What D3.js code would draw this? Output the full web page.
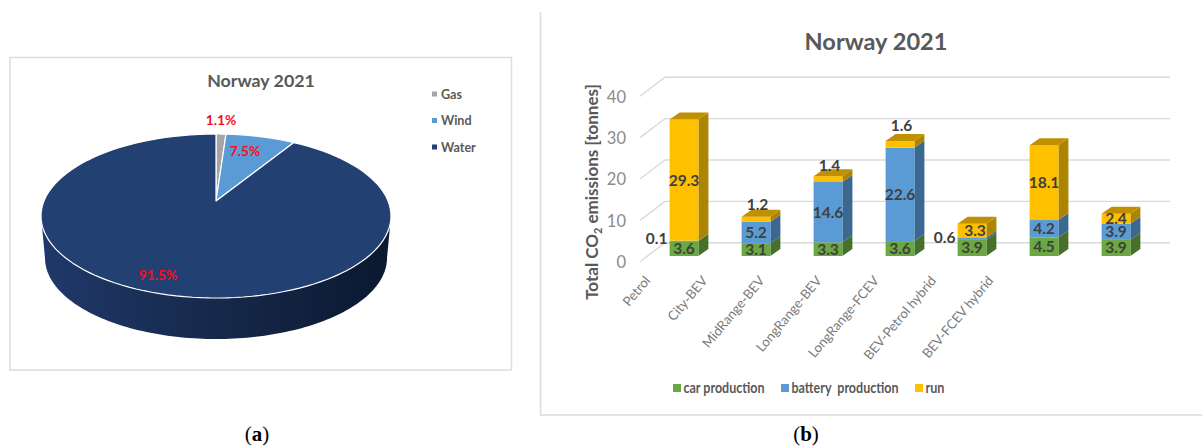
<!DOCTYPE html>
<html>
<head>
<meta charset="utf-8">
<script src="https://cdn.jsdelivr.net/npm/d3@7"></script>
<style>
  html, body { margin: 0; padding: 0; background: #fff; }
  svg { display: block; }
  text { font-family: Lato, "Open Sans", sans-serif; }
</style>
</head>
<body>
<svg id="figure" width="1202" height="448"></svg>
<script>
// Electricity mix, Norway 2021 (%)
const mixSources = ["Gas", "Wind", "Water"];
const mixShares = [1.1, 7.5, 91.5];
const mixLabels = ["1.1%", "7.5%", "91.5%"];

// Lifecycle CO2 per vehicle type (tonnes)
const vehicles = ["Petrol", "City-BEV", "MidRange-BEV", "LongRange-BEV", "LongRange-FCEV", "BEV-Petrol hybrid", "BEV-FCEV hybrid"];
const phases = ["car production", "battery  production", "run"];
const carProduction = [3.6, 3.1, 3.3, 3.6, 3.9, 4.5, 3.9];
const batteryProduction = [0.1, 5.2, 14.6, 22.6, 0.6, 4.2, 3.9];
const runPhase = [29.3, 1.2, 1.4, 1.6, 3.3, 18.1, 2.4];
const emissionTicks = [0, 10, 20, 30, 40];

const svg = d3.select("#figure");
const defs = svg.append("defs");
const GREY = "#595959";

/* ---------- panel (a): tilted pie ---------- */
const panelA = svg.append("g");
panelA.append("rect").attr("x", 10).attr("y", 57.5).attr("width", 501.5).attr("height", 312.5)
  .attr("fill", "#fff").attr("stroke", "#dcdcdc").attr("stroke-width", 1.5);

panelA.append("text").attr("x", 261).attr("y", 87).attr("text-anchor", "middle")
  .attr("font-size", 17.8).attr("font-weight", 700).attr("fill", GREY).text("Norway 2021");

const pieColor = d3.scaleOrdinal().domain(mixSources).range(["#a5a5a5", "#5b9bd5", "#234073"]);

const rimTop = { cx: 216, cy: 216, rx: 175, ry: 82 };
const rimLow = { cx: 216, cy: 258, rx: 171, ry: 81 };
const apex = [216, 201];
const foreshorten = 0.83; // perspective squeeze of pie angles along the rim

const rimAngle = a => {
  const t = Math.atan2(foreshorten * Math.sin(a), Math.cos(a));
  return t < -1e-6 ? t + 2 * Math.PI : t;
};
const rimPoint = (e, t) => [e.cx + e.rx * Math.sin(t), e.cy - e.ry * Math.cos(t)];
const sweep = (e, a, b) => d3.range(0, 121).map(i => rimPoint(e, a + (b - a) * i / 120));
const pathOf = d3.line();

const sideFill = defs.append("linearGradient").attr("id", "pieSide")
  .attr("gradientUnits", "userSpaceOnUse").attr("x1", 41).attr("x2", 391).attr("y1", 0).attr("y2", 0);
[[0, "#20396a"], [0.3, "#1a2f57"], [0.6, "#142645"], [1, "#0a1830"]].forEach(([o, c]) =>
  sideFill.append("stop").attr("offset", o).attr("stop-color", c));

panelA.append("path")
  .attr("d", pathOf([...sweep(rimTop, Math.PI / 2, 3 * Math.PI / 2), ...sweep(rimLow, 3 * Math.PI / 2, Math.PI / 2)]) + "Z")
  .attr("fill", "url(#pieSide)");

const slices = d3.pie().sort(null).value(d => d)(mixShares);
panelA.selectAll("path.slice").data(slices).join("path").attr("class", "slice")
  .attr("d", s => {
    const a = rimAngle(s.startAngle);
    const b = s.endAngle >= 2 * Math.PI - 1e-3 ? 2 * Math.PI : rimAngle(s.endAngle);
    return pathOf([apex, ...sweep(rimTop, a, b)]) + "Z";
  })
  .attr("fill", (s, i) => pieColor(mixSources[i]))
  .attr("stroke", "#fff").attr("stroke-width", 1.2).attr("stroke-linejoin", "round");

const pieLabelAt = [[221, 125], [245, 156], [158, 280]];
panelA.selectAll("text.share").data(mixLabels).join("text").attr("class", "share")
  .attr("x", (d, i) => pieLabelAt[i][0]).attr("y", (d, i) => pieLabelAt[i][1])
  .attr("text-anchor", "middle").attr("font-size", 13.8).attr("font-weight", 700)
  .attr("fill", "#fb0d1b").text(d => d);

const mixLegendY = d3.scalePoint().domain(mixSources).range([94, 147]);
const mixLegend = panelA.selectAll("g.key").data(mixSources).join("g").attr("class", "key")
  .attr("transform", d => `translate(432,${mixLegendY(d)})`);
mixLegend.append("rect").attr("x", 0).attr("y", -2.5).attr("width", 5).attr("height", 5)
  .attr("fill", d => pieColor(d));
mixLegend.append("text").attr("x", 9).attr("y", 4.5).attr("font-size", 12.6).attr("font-weight", 700)
  .attr("fill", GREY).text(d => d);

/* ---------- panel (b): stacked 3-D columns ---------- */
const panelB = svg.append("g");
panelB.append("path").attr("d", "M540.5,12V415H1202").attr("fill", "none")
  .attr("stroke", "#dcdcdc").attr("stroke-width", 1.5);

panelB.append("text").attr("x", 876).attr("y", 50).attr("text-anchor", "middle")
  .attr("font-size", 23.6).attr("font-weight", 700).attr("fill", GREY).text("Norway 2021");

const domainY = [0, 40];
const yBar = d3.scaleLinear().domain(domainY).range([256, 90.6]);
const yWall = d3.scaleLinear().domain(domainY).range([242.7, 77.3]);
const yTick = d3.scaleLinear().domain(domainY).range([262, 97]);
const xBar = d3.scaleBand().domain(vehicles).range([648, 1152]).paddingInner(0.6).paddingOuter(0.3);
const xName = d3.scalePoint().domain(vehicles).range([651, 994]);
const wallDepth = { dx: 25, dy: -19 };
const barDepth = { dx: 10, dy: -7 };

const grid = panelB.append("g").attr("fill", "none").attr("stroke", "#dadada").attr("stroke-width", 1.4);
grid.selectAll("path").data(emissionTicks).join("path")
  .attr("d", v => pathOf([[640, yWall(v) - wallDepth.dy], [640 + wallDepth.dx, yWall(v)], [1170, yWall(v)]]));

const tickAxis = d3.axisLeft(yTick).tickValues(emissionTicks).tickSize(0).tickPadding(0);
const tickGroup = panelB.append("g").attr("transform", "translate(626,0)").call(tickAxis);
tickGroup.select(".domain").remove();
tickGroup.selectAll("text").attr("font-size", 16.5).attr("fill", "#8a8a8a")
  .style("font-family", "Lato, sans-serif");

const yTitle = panelB.append("text").attr("transform", "translate(598,192) rotate(-90)")
  .attr("text-anchor", "middle").attr("font-size", 17).attr("font-weight", 700).attr("fill", GREY);
yTitle.append("tspan").text("Total CO");
yTitle.append("tspan").attr("dy", 4).attr("font-size", 11).text("2");
yTitle.append("tspan").attr("dy", -4).text(" emissions [tonnes]");

const phaseValues = [carProduction, batteryProduction, runPhase];
const phaseFront = d3.scaleOrdinal().domain(phases).range(["#6aa842", "#5b9bd5", "#ffc000"]);
const phaseSide = d3.scaleOrdinal().domain(phases).range(["#47702d", "#3a6890", "#ad8400"]);
const capFill = "#bf9000";

const rows = vehicles.map((name, i) => {
  let base = 0;
  const parts = phases.map((phase, p) => {
    const value = phaseValues[p][i];
    const part = { phase, value, y0: base, y1: base + value };
    base += value;
    return part;
  });
  return { name, parts, total: base };
});

// Height of the small "run" values above their column tops
const liftAboveTop = new Map([["City-BEV", 7], ["MidRange-BEV", 5], ["LongRange-BEV", 10]]);

const columns = panelB.selectAll("g.column").data(rows).join("g").attr("class", "column");
const w = xBar.bandwidth();
columns.each(function (row) {
  const g = d3.select(this);
  const x0 = xBar(row.name);
  row.parts.forEach(part => {
    g.append("path")
      .attr("d", pathOf([[x0 + w, yBar(part.y0)], [x0 + w + barDepth.dx, yBar(part.y0) + barDepth.dy],
        [x0 + w + barDepth.dx, yBar(part.y1) + barDepth.dy], [x0 + w, yBar(part.y1)]]) + "Z")
      .attr("fill", phaseSide(part.phase));
    g.append("rect").attr("x", x0).attr("width", w)
      .attr("y", yBar(part.y1)).attr("height", yBar(part.y0) - yBar(part.y1))
      .attr("fill", phaseFront(part.phase));
  });
  g.append("path")
    .attr("d", pathOf([[x0, yBar(row.total)], [x0 + w, yBar(row.total)],
      [x0 + w + barDepth.dx, yBar(row.total) + barDepth.dy], [x0 + barDepth.dx, yBar(row.total) + barDepth.dy]]) + "Z")
    .attr("fill", capFill);

  // Thin segments carry their value outside the column
  row.parts.forEach(part => {
    let lx = x0 + w / 2, ly = yBar((part.y0 + part.y1) / 2) + 5.5;
    if (part.phase === phases[2] && part.value < 2) { lx += 1.5; ly = yBar(row.total) - liftAboveTop.get(row.name); }
    if (part.phase === phases[2] && part.value < 4 && part.value >= 3) { lx += 3; }
    if (part.phase === phases[1] && part.value < 1) { lx = x0 - 13; ly = yBar(part.y0) + 3; }
    g.append("text").attr("x", lx).attr("y", ly).attr("text-anchor", "middle")
      .attr("font-size", 15.5).attr("font-weight", 700).attr("fill", "#404040")
      .text(part.value.toFixed(1));
  });
});

panelB.selectAll("text.vehicle").data(vehicles).join("text").attr("class", "vehicle")
  .attr("transform", d => `translate(${xName(d)},281) rotate(-50)`)
  .attr("text-anchor", "end").attr("font-size", 13.2).attr("fill", "#7a7a7a").text(d => d);

const phaseKeyX = d3.scaleOrdinal().domain(phases).range([673, 781, 915]);
const phaseKeyWidth = d3.scaleOrdinal().domain(phases).range([81, 107, 19]);
const phaseKey = panelB.selectAll("g.phase").data(phases).join("g").attr("class", "phase")
  .attr("transform", d => `translate(${phaseKeyX(d)},388)`);
phaseKey.append("rect").attr("y", -4).attr("width", 8).attr("height", 8).attr("fill", d => phaseFront(d));
phaseKey.append("text").attr("x", 10.5).attr("y", 5).attr("font-size", 14.5).attr("font-weight", 700)
  .attr("fill", GREY).attr("textLength", d => phaseKeyWidth(d)).attr("lengthAdjust", "spacingAndGlyphs")
  .style("white-space", "pre").text(d => d);

/* ---------- panel captions ---------- */
const captions = [["a", 257], ["b", 806]];
captions.forEach(([letter, x]) => {
  const t = svg.append("text").attr("x", x).attr("y", 441).attr("text-anchor", "middle")
    .attr("font-size", 21).attr("fill", "#000").style("font-family", "'Liberation Serif', serif");
  t.append("tspan").text("(");
  t.append("tspan").attr("font-weight", 700).text(letter);
  t.append("tspan").text(")");
});
</script>
</body>
</html>
